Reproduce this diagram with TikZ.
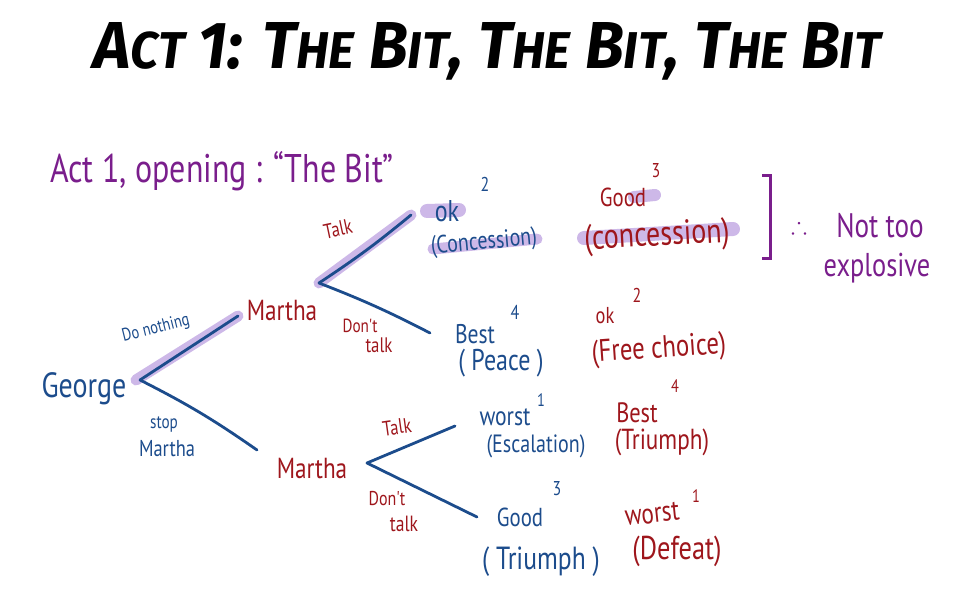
\documentclass[tikz,border=0pt]{standalone}
\usepackage{amsmath}
\usepackage{amssymb}
\usepackage{fontspec}
\usepackage{graphicx}
\newfontfamily\titlefont{Fira Sans}
\newfontfamily\hand{PT Sans}[FakeStretch=0.8]
\definecolor{inkblue}{RGB}{28,76,140}
\definecolor{inkred}{RGB}{158,22,28}
\definecolor{inkpurple}{RGB}{122,30,140}
\definecolor{marker}{RGB}{196,172,228}
\newcommand\sml[1]{\scalebox{.78}{#1}}

\begin{document}
\begin{tikzpicture}[x=1pt,y=-1pt,
  hw/.style={font=\hand\fontsize{#1}{#1}\selectfont, inner sep=0pt},
  geo/.style={hw=#1, text=inkblue},
  mar/.style={hw=#1, text=inkred},
  note/.style={hw=#1, text=inkpurple},
  branch/.style={draw=inkblue, line width=2.8pt, line cap=round},
  hilite/.style={draw=marker, line width=#1, line cap=round, opacity=.85},
  hilite/.default=11pt]
\useasboundingbox (0,0) rectangle (966,602);

\node[font=\titlefont\bfseries\itshape, inner sep=0pt, anchor=base] (title) at (487,68)
  {\resizebox{787pt}{46pt}{A\sml{CT} 1: T\sml{HE} B\sml{IT}, T\sml{HE} B\sml{IT}, T\sml{HE} B\sml{IT}}};
\node[note=40, anchor=base west] (act) at (50,182) {Act 1, opening : “The Bit”};

\coordinate (g) at (140,380);
\coordinate (gup) at (238,316);
\coordinate (gdn) at (257,450);
\coordinate (ma) at (319,283);
\coordinate (mat) at (411,215);
\coordinate (mad) at (430,333);
\coordinate (mb) at (367,463);
\coordinate (mbt) at (455,426);
\coordinate (mbd) at (477,517);

\draw[hilite] ([xshift=-4pt]g) -- (gup);
\draw[hilite] (ma) -- (mat);
\draw[hilite=14pt] (427,211) -- (459,210);
\draw[hilite] (433,249) -- (537,239);
\draw[hilite=12pt] (634,197) -- (655,195);
\draw[hilite=14pt] (584,238) -- (733,229);

\draw[branch] (g) -- (gup);
\draw[branch] (g) to[bend left=4] (gdn);
\draw[branch] (ma) to[bend right=3] (mat);
\draw[branch] (ma) to[bend left=3] (mad);
\draw[branch] (mb) -- (mbt);
\draw[branch] (mb) -- (mbd);

\node[geo=35, anchor=base] (george) at (84,397) {George};
\node[geo=18, rotate=14] (donothing) at (156,329) {Do nothing};
\node[geo=19, anchor=base] (stop) at (164,428) {stop};
\node[geo=23, anchor=base] (stopm) at (167,456) {Martha};
\node[mar=29, anchor=base] (martha1) at (282,320) {Martha};
\node[mar=21, rotate=12] (talk1) at (338,229) {Talk};
\node[mar=19, anchor=base] (dont1) at (360,332) {Don't};
\node[mar=21, anchor=base] (dtalk1) at (379,352) {talk};
\node[mar=29, anchor=base] (martha2) at (312,478) {Martha};
\node[mar=21, rotate=8] (talk2) at (397,427) {Talk};
\node[mar=20, anchor=base] (dont2) at (387,505) {Don't};
\node[mar=22, anchor=base] (dtalk2) at (404,531) {talk};

\node[geo=30, anchor=base] (okA) at (447,221) {ok};
\node[geo=20] (okAn) at (485,184) {2};
\node[geo=25, rotate=5] (concA) at (484,243) {(Concession)};
\node[geo=27, anchor=base] (bestA) at (475,343) {Best};
\node[geo=20] (bestAn) at (515,312) {4};
\node[geo=30] (peace) at (501,363) {( Peace )};
\node[geo=27, anchor=base] (worstB) at (505,425) {worst};
\node[geo=18] (worstBn) at (541,400) {1};
\node[geo=25] (escal) at (536,446) {(Escalation)};
\node[geo=26, anchor=base] (goodB) at (520,526) {Good};
\node[geo=20] (goodBn) at (557,489) {3};
\node[geo=32] (triB) at (541,562) {( Triumph )};

\node[mar=26, anchor=base] (goodA) at (623,206) {Good};
\node[mar=20] (goodAn) at (656,171) {3};
\node[mar=35, rotate=3] (concAr) at (657,237) {(concession)};
\node[mar=23, anchor=base] (okAr) at (605,323) {ok};
\node[mar=31, rotate=4] (free) at (659,350) {(Free choice)};
\node[mar=20] (okArn) at (637,295) {2};
\node[mar=28, anchor=base] (bestBr) at (637,422) {Best};
\node[mar=18] (bestBrn) at (675,386) {4};
\node[mar=29] (triBr) at (662,442) {(Triumph)};
\node[mar=29, anchor=base, rotate=6] (worstBr) at (653,523) {worst};
\node[mar=18] (worstBrn) at (696,496) {1};
\node[mar=33] (defeat) at (677,551) {(Defeat)};

\draw[inkpurple, line width=3pt] (762,175) -- (770,175) -- (770,258) -- (762,258);
\node[text=inkpurple, font=\fontsize{24}{24}\selectfont, inner sep=0pt] (therefore) at (799,225) {$\boldsymbol{\therefore}$};
\node[note=34, anchor=base] (nottoo) at (880,237) {Not too};
\node[note=33, anchor=base] (explo) at (877,276) {explosive};
\end{tikzpicture}
\end{document}
